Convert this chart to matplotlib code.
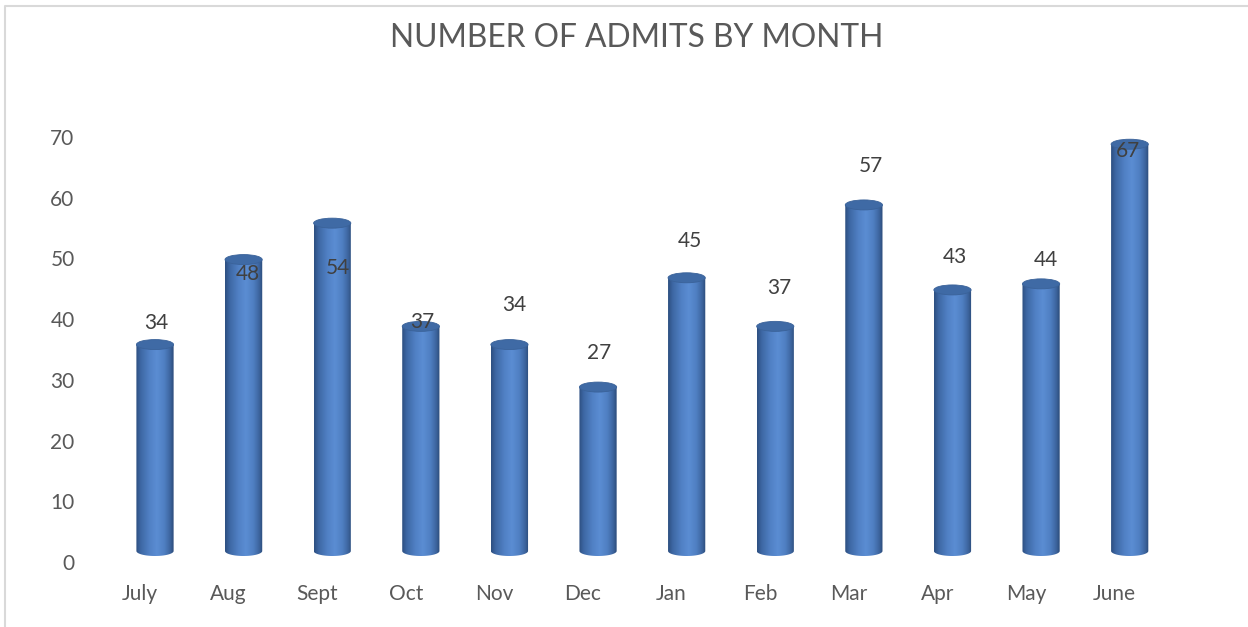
import numpy as np
import matplotlib
matplotlib.use('Agg')
import matplotlib.pyplot as plt
from matplotlib.patches import Ellipse, PathPatch
from matplotlib.lines import Line2D
from matplotlib.path import Path
from matplotlib.colors import LinearSegmentedColormap
from matplotlib.transforms import ScaledTranslation

# ---------------- data ----------------
months = ['July', 'Aug', 'Sept', 'Oct', 'Nov', 'Dec',
          'Jan', 'Feb', 'Mar', 'Apr', 'May', 'June']
admits = [34, 48, 54, 37, 34, 27, 45, 37, 57, 43, 44, 67]
y_ticks = [0, 10, 20, 30, 40, 50, 60, 70]
title = 'NUMBER OF ADMITS BY MONTH'

# Excel 3-D data-label placement (pixel offsets from the bar top)
label_dx_px = [1, 4, 6, 1, 5, 1, 3, 4, 7, 2, 5, -2]
label_dy_px = [22, -14, -44.5, 4, 39.5, 34.5, 36.5, 38, 38.5, 32.5, 23.5, -6.5]

plt.rcParams['font.family'] = ['Lato', 'DejaVu Sans']

W, H = 1248, 627
fig = plt.figure(figsize=(W / 100, H / 100), dpi=100)
fig.patch.set_facecolor('white')

ax_left, ax_right, ax_bottom, ax_top = 110.7, 1174.0, 551.0, 126.0
ax = fig.add_axes([ax_left / W, (H - ax_bottom) / H,
                   (ax_right - ax_left) / W, (ax_bottom - ax_top) / H])
ax.set_xlim(-0.5, 11.5)
ax.set_ylim(0, 70)
for s in ax.spines.values():
    s.set_visible(False)

x = np.arange(len(months))
bars = ax.bar(x, admits, width=0.42, color='none', edgecolor='none')

cmap = LinearSegmentedColormap.from_list('cyl', [
    (0.00, '#2c4e7f'), (0.12, '#3d67a3'), (0.35, '#5080c4'),
    (0.55, '#5b8dd3'), (0.75, '#4f7fc2'), (0.90, '#3d659f'),
    (1.00, '#2b4a78')])
grad = cmap(np.linspace(0, 1, 256))[None, :, :]

px_per_unit = (ax_bottom - ax_top) / 70.0
e = 5.0 / px_per_unit   # ellipse half-height in data units

for r in bars:
    x0, w, h = r.get_x(), r.get_width(), r.get_height()
    xc = x0 + w / 2
    t = np.linspace(np.pi, 2 * np.pi, 50)
    bottom = np.column_stack([xc + w / 2 * np.cos(t), e * np.sin(t)])
    verts = np.vstack([bottom, [[x0 + w, h], [x0, h], [x0, 0]]])
    path = Path(verts, closed=True)
    patch = PathPatch(path, transform=ax.transData, facecolor='none',
                      edgecolor='none')
    ax.add_patch(patch)
    im = ax.imshow(grad, extent=[x0, x0 + w, -e - 0.2, h], aspect='auto',
                   interpolation='bicubic', zorder=2)
    im.set_clip_path(patch)
    im.set_clip_box(fig.bbox)
    top = Ellipse((xc, h), w, 2 * e, facecolor='#3f6aa5',
                  edgecolor='#3a6299', lw=0.6, zorder=3, clip_on=False)
    ax.add_patch(top)

ax.set_xlim(-0.5, 11.5)
ax.set_ylim(0, 70)

# data labels
for xi, v, dx, dy in zip(x, admits, label_dx_px, label_dy_px):
    ax.annotate(str(v), (xi, v), xytext=(dx, dy), textcoords='offset pixels',
                ha='center', va='center', fontsize=15, color='#404040',
                zorder=5, annotation_clip=False)

# ticks
ax.set_xticks(x)
ax.set_xticklabels(months, fontsize=15, color='#595959')
ax.set_yticks(y_ticks)
ax.set_yticklabels([str(v) for v in y_ticks], fontsize=15, color='#595959')
ax.tick_params(length=0)
ax.tick_params(axis='x', pad=24)
ax.tick_params(axis='y', pad=26)
for tk in ax.xaxis.get_major_ticks():
    tk.label1.set_transform(tk.label1.get_transform() +
                            ScaledTranslation(-15 / 100, 0, fig.dpi_scale_trans))
for tk in ax.yaxis.get_major_ticks():
    tk.label1.set_transform(tk.label1.get_transform() +
                            ScaledTranslation(0, -11 / 100, fig.dpi_scale_trans))

# title fitted to reference width
tt = fig.text(636.5 / W, 1 - 47 / H, title, ha='center', va='baseline',
              fontsize=20, color='#595959', fontweight='normal')
fig.canvas.draw()
bb = tt.get_window_extent()
tt.set_fontsize(20 * 493 / bb.width)

# chart border (only top and left edges are visible in the crop)
bx, by = 5 / W, 1 - 6 / H
fig.lines.append(Line2D([bx, bx, 1.0], [0.0, by, by], transform=fig.transFigure,
                        color='#d9d9d9', lw=1.5))

fig.savefig('out.png', dpi=100, facecolor='white')
